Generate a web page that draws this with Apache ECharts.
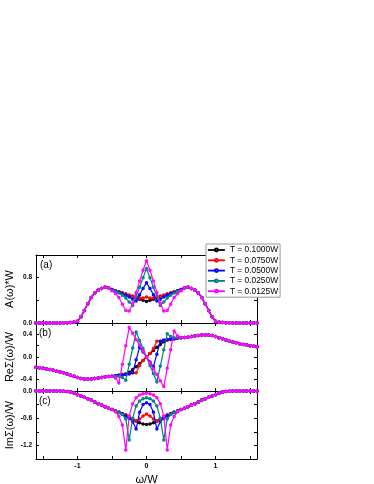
<!DOCTYPE html>
<html><head><meta charset="utf-8">
<script src="https://cdn.jsdelivr.net/npm/echarts@6/dist/echarts.min.js"></script>
<style>html,body{margin:0;padding:0;background:#fff}#c{width:374px;height:484px}</style>
</head><body><div id="c"></div>
<script>
// x grid (ω/W)
const xOuterLeft = [-1.6,-1.55,-1.5,-1.45,-1.4,-1.35,-1.3,-1.25,-1.2,-1.15,-1.1,-1.05,-1.0,-0.95,-0.9,-0.85,-0.8,-0.75,-0.7,-0.65,-0.6,-0.55];
const xInner = [-0.5,-0.45,-0.4,-0.35,-0.3,-0.25,-0.2,-0.15,-0.1,-0.05,0,0.05,0.1,0.15,0.2,0.25,0.3,0.35,0.4,0.45,0.5];
const xOuterRight = [0.55,0.6,0.65,0.7,0.75,0.8,0.85,0.9,0.95,1.0,1.05,1.1,1.15,1.2,1.25,1.3,1.35,1.4,1.45,1.5,1.55,1.6];

const seriesNames = ['T = 0.1000W','T = 0.0750W','T = 0.0500W','T = 0.0250W','T = 0.0125W'];
const seriesColors = ['#000000','#ff0000','#0000ff','#008080','#ff00ff'];

// Panel (a): A(ω)*W
const aOuterLeft = [0,0,0,0,0,0,0,0,0.003,0.005,0.008,0.015,0.03,0.11,0.22,0.34,0.45,0.53,0.58,0.61,0.63,0.62];
const aOuterRight = [0.62,0.63,0.61,0.58,0.53,0.45,0.34,0.22,0.11,0.03,0.015,0.008,0.005,0.003,0,0,0,0,0,0,0,0];
const aInnerT1000 = [0.59,0.57,0.55,0.53,0.51,0.49,0.47,0.45,0.42,0.40,0.38,0.40,0.42,0.45,0.47,0.49,0.51,0.53,0.55,0.57,0.59];
const aInnerT0750 = [0.59,0.57,0.55,0.53,0.51,0.49,0.47,0.45,0.44,0.44,0.46,0.44,0.44,0.45,0.47,0.49,0.51,0.53,0.55,0.57,0.59];
const aInnerT0500 = [0.59,0.57,0.54,0.52,0.49,0.46,0.42,0.39,0.50,0.61,0.71,0.61,0.50,0.39,0.42,0.46,0.49,0.52,0.54,0.57,0.59];
const aInnerT0250 = [0.58,0.56,0.53,0.49,0.44,0.37,0.31,0.47,0.63,0.80,0.96,0.80,0.63,0.47,0.31,0.37,0.44,0.49,0.53,0.56,0.58];
const aInnerT0125 = [0.57,0.52,0.45,0.33,0.22,0.21,0.35,0.54,0.74,0.93,1.10,0.93,0.74,0.54,0.35,0.21,0.22,0.33,0.45,0.52,0.57];

// Panel (b): ReΣ(ω)/W
const reOuterLeft = [-0.18,-0.19,-0.20,-0.21,-0.22,-0.235,-0.25,-0.265,-0.28,-0.30,-0.32,-0.34,-0.36,-0.38,-0.39,-0.39,-0.39,-0.38,-0.37,-0.36,-0.35,-0.345];
const reOuterRight = [0.345,0.35,0.36,0.37,0.38,0.39,0.39,0.39,0.38,0.36,0.34,0.32,0.30,0.28,0.265,0.25,0.235,0.22,0.21,0.20,0.19,0.18];
const reInnerT1000 = [-0.34,-0.33,-0.32,-0.31,-0.30,-0.27,-0.22,-0.17,-0.115,-0.06,0,0.06,0.115,0.17,0.22,0.27,0.30,0.31,0.32,0.33,0.34];
const reInnerT0750 = [-0.34,-0.33,-0.32,-0.31,-0.30,-0.29,-0.28,-0.28,-0.15,-0.06,0,0.06,0.15,0.28,0.28,0.29,0.30,0.31,0.32,0.33,0.34];
const reInnerT0500 = [-0.34,-0.33,-0.32,-0.32,-0.31,-0.30,-0.28,-0.05,0.17,0.09,0,-0.09,-0.17,0.05,0.28,0.30,0.31,0.32,0.32,0.33,0.34];
const reInnerT0250 = [-0.34,-0.34,-0.34,-0.36,-0.41,-0.13,0.16,0.44,0.29,0.15,0,-0.15,-0.29,-0.44,-0.16,0.13,0.41,0.36,0.34,0.34,0.34];
const reInnerT0125 = [-0.34,-0.37,-0.46,-0.13,0.20,0.52,0.42,0.31,0.21,0.10,0,-0.10,-0.21,-0.31,-0.42,-0.52,-0.20,0.13,0.46,0.37,0.34];

// Panel (c): ImΣ(ω)/W
const imOuterLeft = [0,0,0,0,0,0,0,0,-0.003,-0.01,-0.02,-0.045,-0.08,-0.11,-0.14,-0.17,-0.20,-0.24,-0.28,-0.31,-0.35,-0.38];
const imOuterRight = [-0.38,-0.35,-0.31,-0.28,-0.24,-0.20,-0.17,-0.14,-0.11,-0.08,-0.045,-0.02,-0.01,-0.003,0,0,0,0,0,0,0,0];
const imInnerT1000 = [-0.41,-0.44,-0.47,-0.50,-0.53,-0.57,-0.62,-0.66,-0.70,-0.73,-0.74,-0.73,-0.70,-0.66,-0.62,-0.57,-0.53,-0.50,-0.47,-0.44,-0.41];
const imInnerT0750 = [-0.41,-0.44,-0.47,-0.50,-0.53,-0.57,-0.62,-0.67,-0.62,-0.55,-0.51,-0.55,-0.62,-0.67,-0.62,-0.57,-0.53,-0.50,-0.47,-0.44,-0.41];
const imInnerT0500 = [-0.41,-0.44,-0.47,-0.51,-0.55,-0.60,-0.68,-0.84,-0.47,-0.30,-0.26,-0.30,-0.47,-0.84,-0.68,-0.60,-0.55,-0.51,-0.47,-0.44,-0.41];
const imInnerT0250 = [-0.41,-0.44,-0.48,-0.52,-0.62,-1.08,-0.60,-0.33,-0.22,-0.17,-0.15,-0.17,-0.22,-0.33,-0.60,-1.08,-0.62,-0.52,-0.48,-0.44,-0.41];
const imInnerT0125 = [-0.41,-0.46,-0.56,-0.75,-1.30,-0.55,-0.28,-0.15,-0.09,-0.06,-0.05,-0.06,-0.09,-0.15,-0.28,-0.55,-1.30,-0.75,-0.56,-0.46,-0.41];

// Axis ticks / labels
const xTicks = [-1.5,-1,-0.5,0,0.5,1,1.5];
const xLabels = [-1,0,1];
const aTicks = [0,0.4,0.8,1.2], aLabels = [0,0.8];
const reTicks = [-0.6,-0.4,-0.2,0,0.2,0.4,0.6], reLabels = [-0.4,0,0.4];
const imTicks = [-1.5,-1.2,-0.9,-0.6,-0.3,0], imLabels = [-1.2,-0.6,0];

const FONT = 'Liberation Sans, Arial, sans-serif';
const xs = xOuterLeft.concat(xInner, xOuterRight);
function zip(l, inner, r){ const ys = l.concat(inner, r); return xs.map((x,i)=>[x, ys[i]]); }

const panels = [
  {name:'A(\u03c9)*W', min:0, max:1.2, ticks:aTicks, labels:aLabels,
   data:[aInnerT1000,aInnerT0750,aInnerT0500,aInnerT0250,aInnerT0125], L:aOuterLeft, R:aOuterRight},
  {name:'Re\u03a3(\u03c9)/W', min:-0.6, max:0.6, ticks:reTicks, labels:reLabels,
   data:[reInnerT1000,reInnerT0750,reInnerT0500,reInnerT0250,reInnerT0125], L:reOuterLeft, R:reOuterRight},
  {name:'Im\u03a3(\u03c9)/W', min:-1.5, max:0, ticks:imTicks, labels:imLabels,
   data:[imInnerT1000,imInnerT0750,imInnerT0500,imInnerT0250,imInnerT0125], L:imOuterLeft, R:imOuterRight}
];
const tops = [255, 323, 391];
const H = 68;

const grid = [], xAxis = [], yAxis = [], series = [];
const axLine = {onZero:false, lineStyle:{color:'#000', width:1}};
panels.forEach((p, i) => {
  grid.push({left:36, top:tops[i], width:221, height:H, containLabel:false, outerBoundsMode:'none'});
  const isLast = i === 2;
  xAxis.push({gridIndex:i, type:'value', min:-1.6, max:1.6, position:'bottom', axisLine:axLine,
    axisTick:{inside:true, length:3, customValues:xTicks, lineStyle:{color:'#000'}},
    axisLabel:{show:isLast, customValues:xLabels, fontSize:7, fontWeight:'bold', color:'#000', margin:4, fontFamily:FONT,
      formatter:v=>String(Math.round(v))},
    splitLine:{show:false},
    name: isLast ? '\u03c9/W' : '', nameLocation:'middle', nameGap:15, nameMoveOverlap:false,
    nameTextStyle:{fontSize:11, color:'#000', fontFamily:FONT}});
  xAxis.push({gridIndex:i, type:'value', min:-1.6, max:1.6, position:'top', axisLine:axLine,
    axisTick:{inside:true, length:3, customValues:xTicks, lineStyle:{color:'#000'}},
    axisLabel:{show:false}, splitLine:{show:false}});
  yAxis.push({gridIndex:i, type:'value', min:p.min, max:p.max, position:'left', axisLine:axLine,
    axisTick:{inside:true, length:3, customValues:p.ticks, lineStyle:{color:'#000'}},
    axisLabel:{customValues:p.labels, fontSize:6.5, fontWeight:'bold', color:'#000', margin:4, fontFamily:FONT,
      formatter:v=>(Math.abs(v)<1e-9?0:v).toFixed(1)},
    splitLine:{show:false},
    name:p.name, nameLocation:'middle', nameGap:21, nameMoveOverlap:false,
    nameTextStyle:{fontSize:11, color:'#000', fontFamily:FONT}});
  yAxis.push({gridIndex:i, type:'value', min:p.min, max:p.max, position:'right', axisLine:axLine,
    axisTick:{inside:true, length:3, customValues:p.ticks, lineStyle:{color:'#000'}},
    axisLabel:{show:false}, splitLine:{show:false}});
  p.data.forEach((inner, k) => {
    series.push({type:'line', name:seriesNames[k], xAxisIndex:2*i, yAxisIndex:2*i,
      data:zip(p.L, inner, p.R), symbol:'emptyCircle', symbolSize:1.5, showSymbol:true,
      color:seriesColors[k], lineStyle:{width:1.2, color:seriesColors[k]},
      itemStyle:{color:seriesColors[k], borderWidth:0.5}, clip:true, animation:false, z:2+k});
  });
});

const chart = echarts.init(document.getElementById('c'), null, {renderer:'canvas'});
chart.setOption({
  animation:false,
  backgroundColor:'#fff',
  grid, xAxis, yAxis, series,
  legend:{data:seriesNames, orient:'vertical', left:206, top:244, itemWidth:17, itemHeight:3.5, itemGap:0.3,
    padding:[1,2,1,1], backgroundColor:'#fff', borderColor:'#999', borderWidth:1, z:20,
    lineStyle:{width:1.8},
    textStyle:{fontSize:8.4, lineHeight:10, color:'#000', fontFamily:FONT}},
  graphic:[
    {type:'text', left:40, top:260, z:30, style:{text:'(a)', fontSize:10, fill:'#000', fontFamily:FONT}},
    {type:'text', left:39, top:328, z:30, style:{text:'(b)', fontSize:10, fill:'#000', fontFamily:FONT}},
    {type:'text', left:39, top:396, z:30, style:{text:'(c)', fontSize:10, fill:'#000', fontFamily:FONT}}
  ]
});
</script></body></html>
